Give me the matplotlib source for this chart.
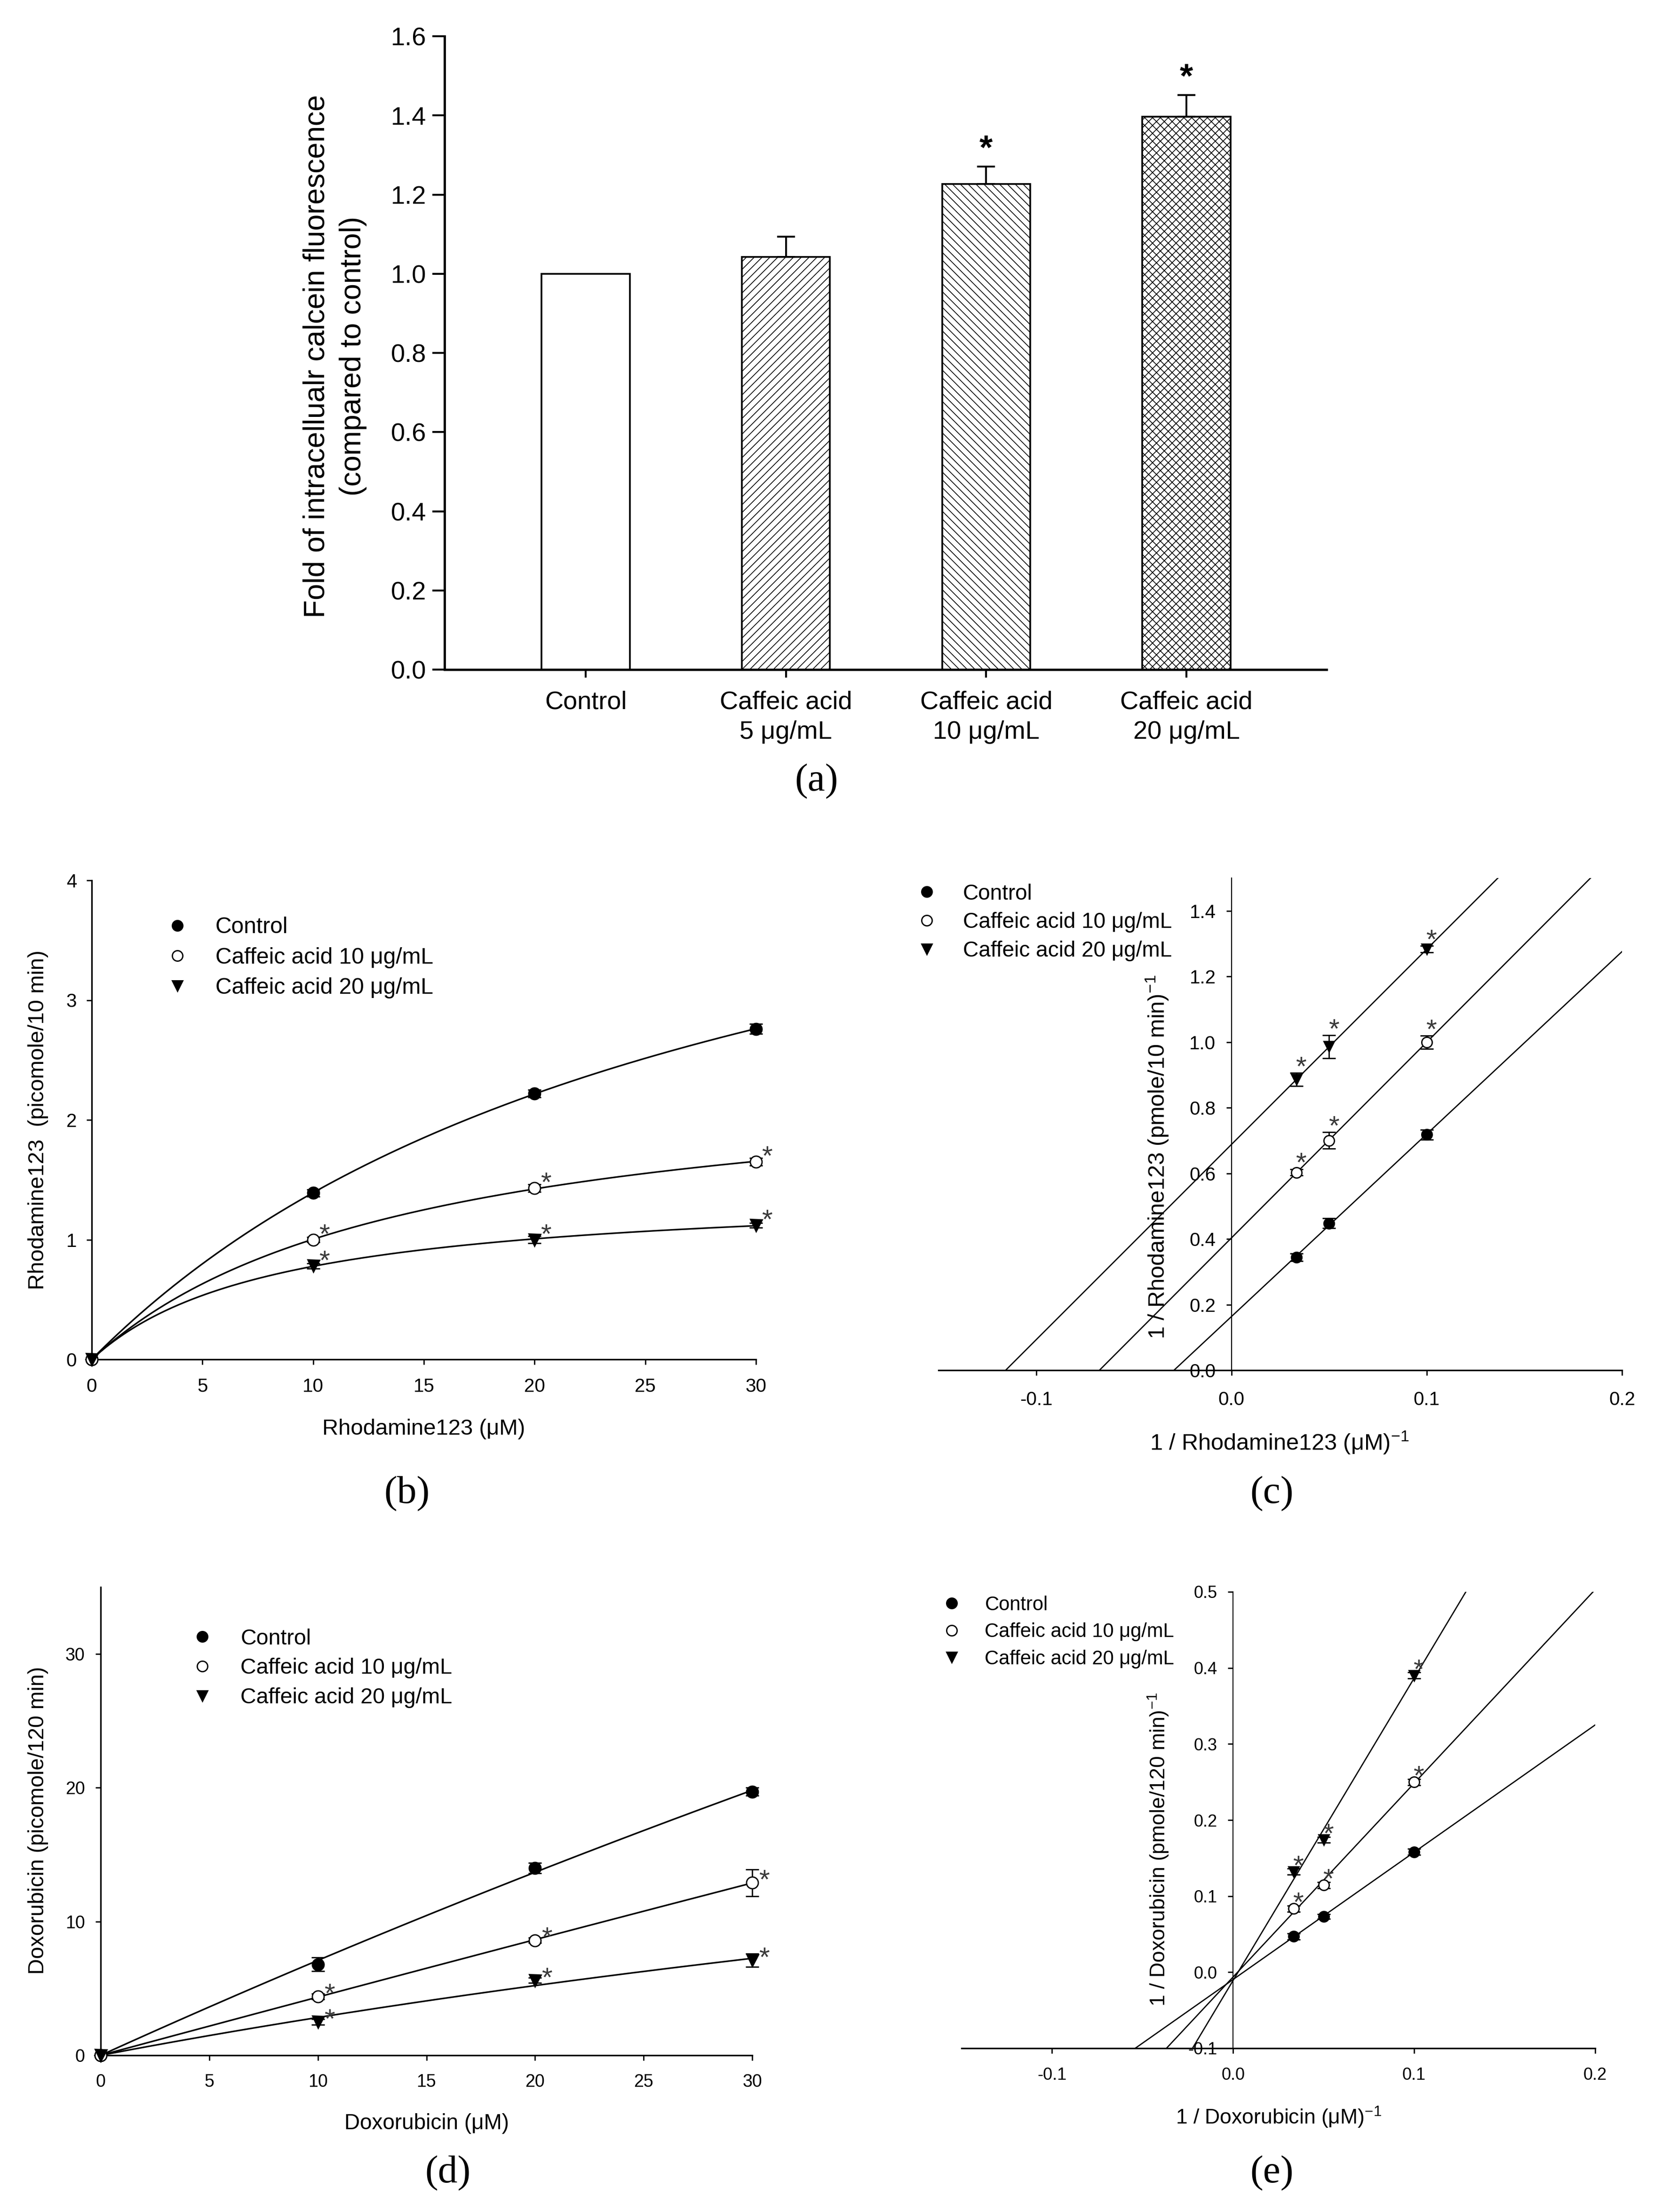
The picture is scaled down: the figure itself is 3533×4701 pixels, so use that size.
import numpy as np
import matplotlib
matplotlib.use("Agg")
import matplotlib.pyplot as plt
from matplotlib.lines import Line2D
from matplotlib.ticker import FormatStrFormatter

plt.rcParams['font.family'] = ['Liberation Sans', 'DejaVu Sans']
plt.rcParams['axes.unicode_minus'] = False
plt.rcParams['mathtext.default'] = 'regular'
plt.rcParams['hatch.linewidth'] = 1.2

# ---- (a) calcein accumulation
groups = ['Control', 'Caffeic acid\n5 μg/mL', 'Caffeic acid\n10 μg/mL', 'Caffeic acid\n20 μg/mL']
fold = [1.0, 1.042, 1.227, 1.397]
fold_err = [0.0, 0.052, 0.044, 0.055]
fold_sig = [False, False, True, True]
hatches = ['', '//', '\\\\', 'xx']

series = ['Control', 'Caffeic acid 10 μg/mL', 'Caffeic acid 20 μg/mL']

# ---- (b) rhodamine123 transport
rho_conc = [0, 10, 20, 30]
rho_rate = [[0, 1.39, 2.22, 2.76],
            [0, 1.00, 1.43, 1.65],
            [0, 0.78, 1.00, 1.12]]
rho_err = [[0, 0.03, 0.03, 0.04],
           [0, 0.02, 0.03, 0.03],
           [0, 0.02, 0.03, 0.02]]
rho_sig = [[0, 0, 0, 0], [0, 1, 1, 1], [0, 1, 1, 1]]

# ---- (c) rhodamine123 double reciprocal
rho_inv_conc = [1 / 30, 1 / 20, 1 / 10]
rho_inv_rate = [[0.344, 0.448, 0.718],
                [0.603, 0.700, 1.000],
                [0.886, 0.986, 1.283]]
rho_inv_err = [[0.012, 0.015, 0.015],
               [0.010, 0.025, 0.020],
               [0.020, 0.035, 0.010]]
rho_inv_sig = [[0, 0, 0], [1, 1, 1], [1, 1, 1]]

# ---- (d) doxorubicin transport
dox_conc = [0, 10, 20, 30]
dox_rate = [[0, 6.8, 14.0, 19.7],
            [0, 4.4, 8.6, 12.9],
            [0, 2.5, 5.6, 7.1]]
dox_err = [[0, 0.5, 0.4, 0.3],
           [0, 0.2, 0.2, 1.0],
           [0, 0.2, 0.2, 0.5]]
dox_sig = [[0, 0, 0, 0], [0, 1, 1, 1], [0, 1, 1, 1]]

# ---- (e) doxorubicin double reciprocal
dox_inv_conc = [1 / 30, 1 / 20, 1 / 10]
dox_inv_rate = [[0.047, 0.073, 0.158],
                [0.0835, 0.1145, 0.250],
                [0.132, 0.174, 0.390]]
dox_inv_err = [[0.004, 0.003, 0.004],
               [0.004, 0.004, 0.004],
               [0.004, 0.004, 0.004]]
dox_inv_sig = [[0, 0, 0], [1, 1, 1], [1, 1, 1]]

markers = [dict(marker='o', mfc='black'),
           dict(marker='o', mfc='white'),
           dict(marker='v', mfc='black')]
LW = 2.4
STAR_FS = 42
STAR_COL = '#3a3a3a'


def mm_fit(s, v):
    # least squares Michaelis-Menten fit by scanning Km
    s = np.asarray(s, float)
    v = np.asarray(v, float)
    best = None
    for km in np.logspace(-1, 4, 4000):
        f = s / (km + s)
        vmax = (f @ v) / (f @ f)
        sse = ((vmax * f - v) ** 2).sum()
        if best is None or sse < best[0]:
            best = (sse, vmax, km)
    return best[1], best[2]


def style_axes(ax, tick_fs, xpad, ypad):
    ax.spines['top'].set_visible(False)
    ax.spines['right'].set_visible(False)
    for sp in ax.spines.values():
        sp.set_linewidth(LW)
    ax.tick_params(direction='out', length=8, width=2, labelsize=tick_fs)
    ax.tick_params(axis='x', pad=xpad)
    ax.tick_params(axis='y', pad=ypad)


def add_legend(ax, x0, y0, fs, spacing, pad):
    handles = [Line2D([], [], linestyle='none', color='black', markersize=16,
                      markeredgewidth=2, **m) for m in markers]
    ax.legend(handles, series, loc='upper left', bbox_to_anchor=(x0, y0), frameon=False,
              fontsize=fs, handlelength=1.0, handletextpad=pad, labelspacing=spacing,
              borderpad=0, borderaxespad=0)


def draw_points(ax, x, ys, errs, sigs, ms, star_off, from_err=False):
    for y, e, sg, m in zip(ys, errs, sigs, markers):
        ax.errorbar(x, y, yerr=e, linestyle='none', color='black', ecolor='black',
                    elinewidth=2, capsize=10, capthick=2, markersize=ms,
                    markeredgewidth=2, clip_on=False, zorder=3, **m)
        for xi, yi, ei, s in zip(x, y, e, sg):
            if s:
                yy = yi + ei if from_err else yi
                ax.annotate('*', (xi, yy), xytext=star_off, textcoords='offset points',
                            ha='center', va='baseline', fontsize=STAR_FS, color=STAR_COL,
                            annotation_clip=False)


W, H = 3533, 4701
fig = plt.figure(figsize=(W / 100, H / 100), dpi=100)


def box(l, r, b, t):
    return [l / W, 1 - b / H, (r - l) / W, (b - t) / H]


# ---------------- (a)
ax = fig.add_axes(box(945, 2820, 1423, 77))
pos = np.arange(len(groups))
ax.bar(pos, fold, width=0.44, color='white', edgecolor='black', linewidth=2.6,
       hatch=hatches, zorder=2)
ax.errorbar(pos[1:], fold[1:], yerr=[np.zeros(3), fold_err[1:]], linestyle='none',
            ecolor='black', elinewidth=2.8, capsize=14, capthick=2.8, zorder=3)
for p, v, e, s in zip(pos, fold, fold_err, fold_sig):
    if s:
        ax.annotate('*', (p, v + e), xytext=(0, 12), textcoords='offset points',
                    ha='center', va='baseline', fontsize=52, fontweight='bold')
ax.set_xlim(-0.705, 3.70)
ax.set_ylim(0, 1.6)
ax.set_yticks(np.arange(0, 1.61, 0.2))
ax.yaxis.set_major_formatter(FormatStrFormatter('%.1f'))
ax.set_xticks(pos)
ax.set_xticklabels(groups, fontsize=38, linespacing=1.35)
style_axes(ax, 39, 20, 9)
ax.spines['left'].set_linewidth(3.5)
ax.spines['bottom'].set_linewidth(3.5)
ax.tick_params(axis='x', length=12, width=3)
ax.tick_params(axis='y', length=19, width=3)
ax.set_ylabel('Fold of intracellualr calcein fluorescence\n(compared to control)',
              fontsize=45, linespacing=1.4)
ax.yaxis.set_label_coords(-0.088, 0.495)

# ---------------- (b)
ax = fig.add_axes(box(195, 1607, 2889, 1871))
xs = np.linspace(0, 30, 300)
for y in rho_rate:
    vmax, km = mm_fit(rho_conc[1:], y[1:])
    ax.plot(xs, vmax * xs / (km + xs), color='black', lw=LW)
draw_points(ax, rho_conc, rho_rate, rho_err, rho_sig, 18, (17, -5))
ax.set_xlim(0, 30)
ax.set_ylim(0, 4)
ax.set_xticks(range(0, 31, 5))
ax.set_yticks(range(0, 5))
style_axes(ax, 29, 20, 15)
ax.set_xlabel('Rhodamine123 (μM)', fontsize=34)
ax.set_ylabel('Rhodamine123  (picomole/10 min)', fontsize=34)
ax.xaxis.set_label_coords(0.5, -0.124)
ax.yaxis.set_label_coords(-0.065, 0.5)
add_legend(ax, 0.112, 0.924, 34.5, 0.4, 1.19)

# ---------------- (c)
ax = fig.add_axes(box(1995, 3448, 2912, 1866))
xl = np.array([-0.15, 0.2])
for y in rho_inv_rate:
    k, b = np.polyfit(rho_inv_conc, y, 1)
    ax.plot(xl, k * xl + b, color='black', lw=1.9)
draw_points(ax, rho_inv_conc, rho_inv_rate, rho_inv_err, rho_inv_sig, 16, (7, -4),
            from_err=True)
ax.set_xlim(-0.15, 0.2)
ax.set_ylim(0, 1.5)
ax.set_xticks([-0.1, 0.0, 0.1, 0.2])
ax.set_yticks(np.arange(0, 1.41, 0.2))
ax.xaxis.set_major_formatter(FormatStrFormatter('%.1f'))
ax.yaxis.set_major_formatter(FormatStrFormatter('%.1f'))
style_axes(ax, 29, 24, 16)
ax.spines['left'].set_position(('data', 0))
ax.spines['left'].set_linewidth(1.6)
ax.set_xlabel('1 / Rhodamine123 (μM)$^{-1}$', fontsize=35)
ax.set_ylabel('1 / Rhodamine123 (pmole/10 min)$^{-1}$', fontsize=35)
ax.xaxis.set_label_coords(0.499, -0.121)
ax.yaxis.set_label_coords(0.339, 0.433)
add_legend(ax, -0.033, 0.989, 33, 0.37, 1.18)

# ---------------- (d)
ax = fig.add_axes(box(214, 1599, 4368, 3373))
for y in dox_rate:
    vmax, km = mm_fit(dox_conc[1:], y[1:])
    ax.plot(xs, vmax * xs / (km + xs), color='black', lw=LW)
draw_points(ax, dox_conc, dox_rate, dox_err, dox_sig, 18, (18, -9))
ax.set_xlim(0, 30)
ax.set_ylim(0, 35)
ax.set_xticks(range(0, 31, 5))
ax.set_yticks([0, 10, 20, 30])
style_axes(ax, 27, 20, 16)
ax.set_xlabel('Doxorubicin (μM)', fontsize=33)
ax.set_ylabel('Doxorubicin (picomole/120 min)', fontsize=33.5)
ax.xaxis.set_label_coords(0.5, -0.124)
ax.yaxis.set_label_coords(-0.080, 0.502)
add_legend(ax, 0.139, 0.912, 33.5, 0.405, 1.25)

# ---------------- (e)
ax = fig.add_axes(box(2044, 3391, 4353, 3383))
for y in dox_inv_rate:
    k, b = np.polyfit(dox_inv_conc, y, 1)
    ax.plot(xl, k * xl + b, color='black', lw=1.9)
draw_points(ax, dox_inv_conc, dox_inv_rate, dox_inv_err, dox_inv_sig, 16, (7, -4))
ax.set_xlim(-0.15, 0.2)
ax.set_ylim(-0.1, 0.5)
ax.set_xticks([-0.1, 0.0, 0.1, 0.2])
ax.set_yticks(np.arange(-0.1, 0.51, 0.1))
ax.xaxis.set_major_formatter(FormatStrFormatter('%.1f'))
ax.yaxis.set_major_formatter(FormatStrFormatter('%.1f'))
style_axes(ax, 26, 21, 16)
ax.spines['left'].set_position(('data', 0))
ax.spines['left'].set_linewidth(1.6)
ax.set_xlabel('1 / Doxorubicin (μM)$^{-1}$', fontsize=32)
ax.set_ylabel('1 / Doxorubicin (pmole/120 min)$^{-1}$', fontsize=32)
ax.xaxis.set_label_coords(0.5, -0.125)
ax.yaxis.set_label_coords(0.330, 0.436)
add_legend(ax, -0.031, 0.992, 30, 0.42, 1.19)

# ---------------- captions
for lab, (cx, cy) in zip(['(a)', '(b)', '(c)', '(d)', '(e)'],
                         [(1736, 1661), (865, 3175), (2704, 3175), (952, 4619), (2704, 4619)]):
    fig.text(cx / W, 1 - cy / H, lab, ha='center', va='center', fontsize=60,
             family='Liberation Serif')

fig.savefig('out.png', dpi=100, facecolor='white')
